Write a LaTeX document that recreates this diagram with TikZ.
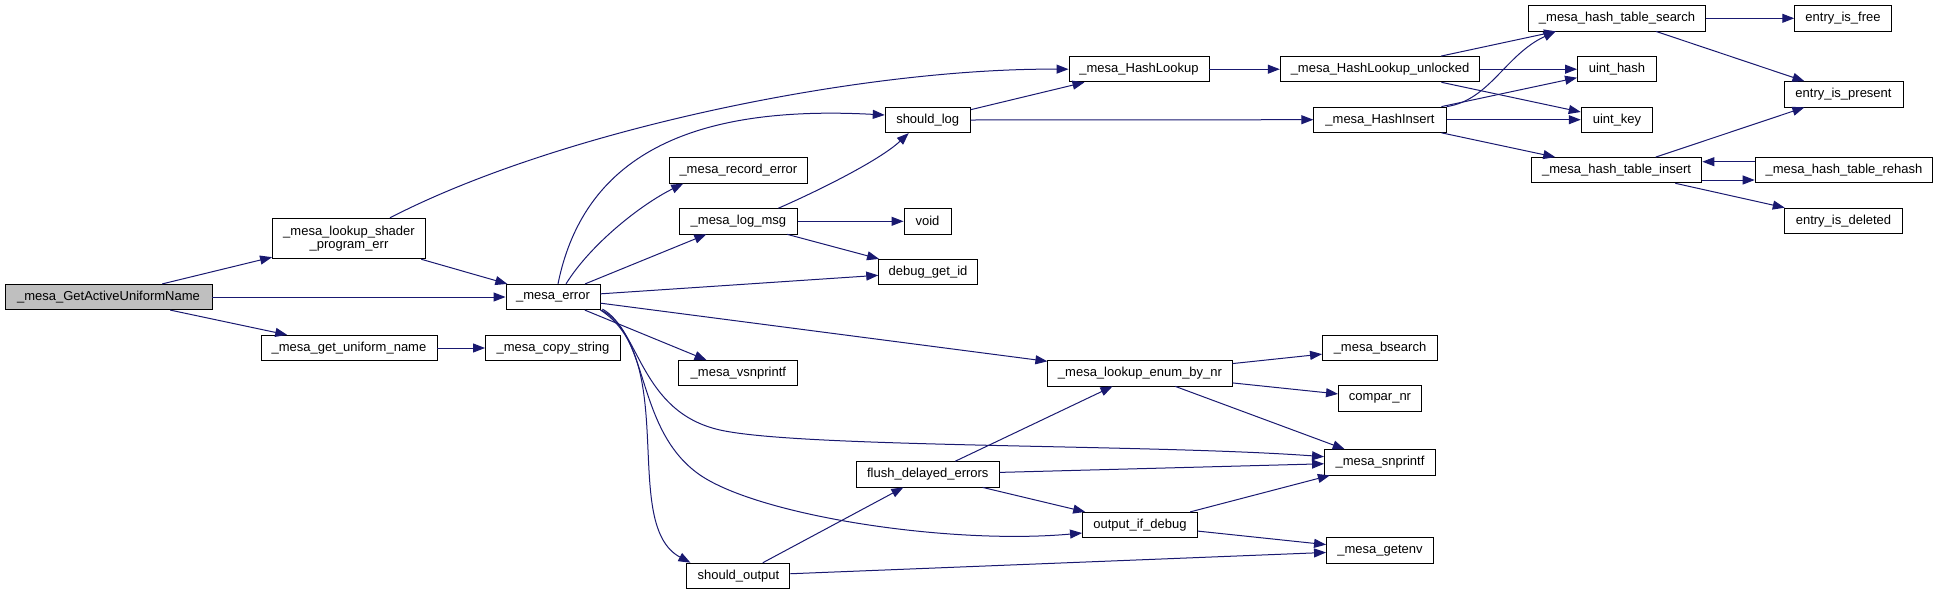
\documentclass[tikz,border=0pt]{standalone}
\usepackage{fontspec}
\setmainfont{Liberation Sans}
\usetikzlibrary{arrows.meta,calc}
\definecolor{edgeblue}{RGB}{25,25,112}
\definecolor{rootgray}{RGB}{191,191,191}
\begin{document}
\begin{tikzpicture}[x=1pt,y=-1pt,
  fn/.style={draw=black,line width=0.9pt,fill=white,inner sep=0pt,minimum height=25.3pt,
    font=\fontsize{13}{13.4}\selectfont,align=center},
  rootfn/.style={fn,fill=rootgray},
  call/.style={draw=edgeblue,line width=1pt,-{Triangle[length=12pt,width=9pt]},fill=none}]
\useasboundingbox (0,0) rectangle (1939,595);

% nodes
\node[rootfn,minimum width=207pt] (root) at (108.5,297) {\_mesa\_GetActiveUniformName};
\node[fn,minimum width=153pt,minimum height=40.5pt] (lsp) at (349,238.5) {\_mesa\_lookup\_shader\\\_program\_err};
\node[fn,minimum width=176pt] (gun) at (349,348) {\_mesa\_get\_uniform\_name};
\node[fn,minimum width=135pt] (cps) at (553,348) {\_mesa\_copy\_string};
\node[fn,minimum width=94pt] (err) at (553,297) {\_mesa\_error};
\node[fn,minimum width=140pt] (hl) at (1139,69.2) {\_mesa\_HashLookup};
\node[fn,minimum width=85pt] (slog) at (927.7,120) {should\_log};
\node[fn,minimum width=137.5pt] (rec) at (738.4,170.5) {\_mesa\_record\_error};
\node[fn,minimum width=118pt] (lmsg) at (738.4,221.3) {\_mesa\_log\_msg};
\node[fn,minimum width=47pt] (void) at (927.5,221.3) {void};
\node[fn,minimum width=98.6pt] (dgi) at (928,272) {debug\_get\_id};
\node[fn,minimum width=119pt] (vsn) at (738.4,373.2) {\_mesa\_vsnprintf};
\node[fn,minimum width=184.3pt] (len) at (1140,373.3) {\_mesa\_lookup\_enum\_by\_nr};
\node[fn,minimum width=115pt] (bs) at (1380,348) {\_mesa\_bsearch};
\node[fn,minimum width=83pt] (cnr) at (1380,398.3) {compar\_nr};
\node[fn,minimum width=111pt] (snp) at (1380,462.3) {\_mesa\_snprintf};
\node[fn,minimum width=142.7pt] (fde) at (927.8,474.3) {flush\_delayed\_errors};
\node[fn,minimum width=115pt] (oid) at (1140,525) {output\_if\_debug};
\node[fn,minimum width=103pt] (so) at (738.4,575.8) {should\_output};
\node[fn,minimum width=107pt] (ge) at (1380,550.3) {\_mesa\_getenv};
\node[fn,minimum width=199.5pt] (hlu) at (1380,69.2) {\_mesa\_HashLookup\_unlocked};
\node[fn,minimum width=132.4pt] (hi) at (1380,119.7) {\_mesa\_HashInsert};
\node[fn,minimum width=177pt] (hts) at (1617,18.3) {\_mesa\_hash\_table\_search};
\node[fn,minimum width=79pt] (uh) at (1617,69.2) {uint\_hash};
\node[fn,minimum width=71.6pt] (uk) at (1617,119.7) {uint\_key};
\node[fn,minimum width=96.6pt] (eif) at (1843,18.3) {entry\_is\_free};
\node[fn,minimum width=119pt] (eip) at (1843.5,94.3) {entry\_is\_present};
\node[fn,minimum width=170.6pt] (hti) at (1616.6,170.2) {\_mesa\_hash\_table\_insert};
\node[fn,minimum width=177.7pt] (htr) at (1844,170.2) {\_mesa\_hash\_table\_rehash};
\node[fn,minimum width=117.4pt] (eid) at (1843.5,220.8) {entry\_is\_deleted};

% edges from root
\draw[call] (root) -- (lsp);
\draw[call] (root) -- (err);
\draw[call] (root) -- (gun);
\draw[call] (gun) -- (cps);
\draw[call] (lsp) -- (err);
\draw[call] ($(lsp.north)+(41,0)$) .. controls (560,130) and (860,68) .. (hl.west);

% edges from _mesa_error
\draw[call] ($(err.north)+(5,0)$) .. controls (585,150) and (700,105) .. ($(slog.west)+(0,-5)$);
\draw[call] ($(err.north)+(13,0)$) .. controls (590,245) and (640,205) .. ($(rec.south west)+(14,0)$);
\draw[call] (err) -- (lmsg);
\draw[call] (err) -- (dgi);
\draw[call] (err) -- (vsn);
\draw[call] (err) -- (len);
\draw[call] ($(err.south east)+(2,-1)$) .. controls (640,330) and (640,412) .. (720,430)
   .. controls (800,448) and (1150,444) .. ($(snp.west)+(0,-5.6)$);
\draw[call] ($(err.south east)+(1,0)$) .. controls (650,335) and (635,430) .. (700,475)
   .. controls (760,516) and (950,545) .. ($(oid.west)+(0,8)$);
\draw[call] (err.south east) .. controls (680,360) and (620,525) .. ($(so.north west)+(4,0)$);

% log_msg
\draw[call] ($(lmsg.north)+(40,0)$) .. controls (820,190) and (880,160) .. ($(slog.south)+(-19,0)$);
\draw[call] (lmsg) -- (void);
\draw[call] (lmsg) -- (dgi);

% should_log
\draw[call] (slog) -- (hl);
\draw[call] (slog.east) -- (hi.west);

% hash lookups
\draw[call] (hl) -- (hlu);
\draw[call] (hlu) -- (hts);
\draw[call] (hlu) -- (uh);
\draw[call] (hlu) -- (uk);
\draw[call] (hi.north east) .. controls (1490,100) and (1505,55) .. ($(hts.south west)+(27.5,0)$);
\draw[call] (hi) -- (uh);
\draw[call] (hi) -- (uk);
\draw[call] (hi) -- (hti);
\draw[call] (hts) -- (eif);
\draw[call] (hts) -- (eip);
\draw[call] (hti) -- (eip);
\draw[call] ($(htr.west)+(0,-8.5)$) -- ($(hti.east)+(0,-8.5)$);
\draw[call] ($(hti.east)+(0,9.8)$) -- ($(htr.west)+(0,9.8)$);
\draw[call] (hti) -- (eid);

% enum / output
\draw[call] (len) -- (bs);
\draw[call] (len) -- (cnr);
\draw[call] (len) -- (snp);
\draw[call] (fde) -- (len);
\draw[call] (fde) -- (snp);
\draw[call] (fde) -- (oid);
\draw[call] (oid) -- (snp);
\draw[call] (oid) -- (ge);
\draw[call] (so) -- (fde);
\draw[call] (so) -- (ge);
\end{tikzpicture}
\end{document}
